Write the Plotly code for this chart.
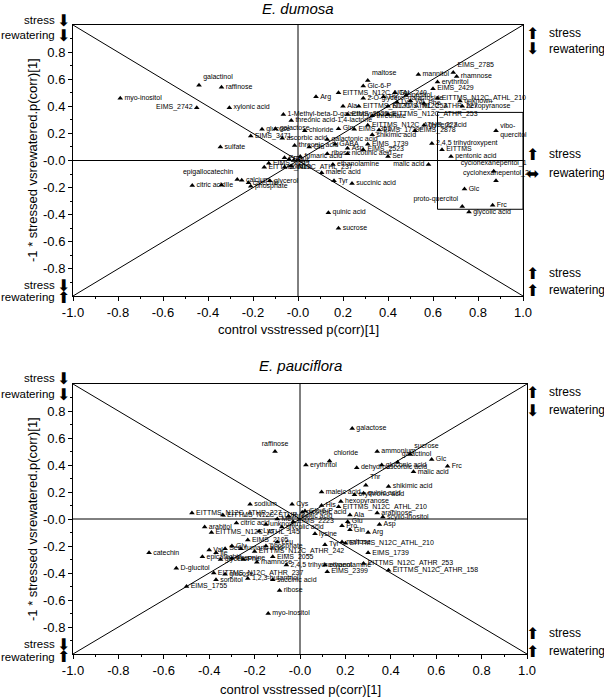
import plotly.graph_objects as go

# ---------------- data: E. dumosa (top panel) ----------------
dumosa_labels = [
    "myo-inositol", "galactinol", "raffinose", "EIMS_2742", "xylonic acid",
    "1-Methyl-beta-D-galactopyranoside", "glucose", "galactose", "EIMS_3471", "ascorbic acid",
    "sulfate", "threonic acid", "chloride", "Gln", "EIMS_351",
    "EIMS_1739", "EITTMS_N12C_ATHR_227", "galactonic acid", "shikimic acid", "GABA",
    "Asp", "EIMS_1739", "EIMS_2523", "nicotinic acid", "Ser",
    "ribose", "ethanolamine", "malic acid", "maleic acid", "Tyr",
    "succinic acid", "quinic acid", "sucrose", "cyclohexanepentol_1", "cyclohexanepentol_2",
    "Glc", "proto-quercitol", "Frc", "glycolic acid", "vibo-<br>quercitol",
    "EITTMS", "pentonic acid", "2,4,5 trihydroxypent", "EIMS_2878", "glyceric acid",
    "mannitol", "EIMS_2785", "rhamnose", "erythritol", "maltose",
    "Glc-6-P", "Arg", "EITTMS_N12C_NTAL_240", "2-O-glycerol-galactoside", "Ala",
    "EITTMS_N12C_ATHL_253", "EIMS_2429", "EITTMS_N12C_ATHL_210", "hexopyranose", "EITTMS_N12C_ATHR_227",
    "EITTMS_N12C_ATHR_253", "unknown", "inositol", "Gly", "Thr",
    "Val", "Phe", "Lys", "threonate", "EIMS_2523",
    "threonic acid-1,4-lactone", "Pro", "Gly", "Cys", "EIMS_2169",
    "EITTMS_N12C_ATHL_237", "sodium", "Val", "fumaric acid", "Glu",
    "calcium", "glycerol", "catechin", "phosphate", "epigallocatechin",
    "Ile", "citric acid",
]
dumosa_x = [
    -0.79, -0.44, -0.34, -0.45, -0.305,
    -0.065, -0.16, -0.10, -0.21, -0.07,
    -0.345, -0.015, 0.03, 0.18, 0.25,
    0.36, 0.31, 0.13, 0.33, 0.165,
    0.22, 0.31, 0.29, 0.22, 0.40,
    0.13, 0.155, 0.58, 0.105, 0.16,
    0.24, 0.135, 0.18, 0.87, 0.88,
    0.74, 0.73, 0.865, 0.76, 0.88,
    0.64, 0.68, 0.595, 0.52, 0.56,
    0.535, 0.69, 0.705, 0.62, 0.31,
    0.29, 0.08, 0.18, 0.29, 0.20,
    0.27, 0.60, 0.62, 0.73, 0.40,
    0.40, 0.72, 0.48, 0.43, 0.38,
    0.50, 0.56, 0.44, 0.33, 0.22,
    -0.03, -0.06, -0.04, -0.02, -0.13,
    -0.15, -0.06, -0.03, 0.01, 0.05,
    -0.25, -0.125, -0.22, -0.21, -0.27,
    -0.34, -0.47,
]
dumosa_y = [
    0.46, 0.555, 0.54, 0.39, 0.39,
    0.34, 0.23, 0.235, 0.18, 0.165,
    0.10, 0.11, 0.22, 0.235, 0.23,
    0.225, 0.26, 0.155, 0.19, 0.12,
    0.09, 0.12, 0.08, 0.05, 0.03,
    0.05, -0.03, -0.03, -0.09, -0.15,
    -0.17, -0.385, -0.50, -0.08, -0.15,
    -0.21, -0.34, -0.33, -0.38, 0.22,
    0.08, 0.03, 0.125, 0.22, 0.26,
    0.635, 0.65, 0.62, 0.58, 0.59,
    0.55, 0.47, 0.50, 0.46, 0.40,
    0.40, 0.53, 0.46, 0.40, 0.40,
    0.34, 0.44, 0.48, 0.50, 0.47,
    0.44, 0.42, 0.43, 0.33, 0.34,
    0.295, 0.02, 0.01, 0.0, -0.02,
    -0.05, -0.05, -0.04, 0.03, 0.10,
    -0.145, -0.15, -0.165, -0.19, -0.14,
    -0.18, -0.185,
]
dumosa_pos = ["middle right"] * len(dumosa_labels)
for i, lab in enumerate(dumosa_labels):
    if lab in ("EIMS_2742", "malic acid"):
        dumosa_pos[i] = "middle left"
    if lab in ("cyclohexanepentol_1", "cyclohexanepentol_2"):
        dumosa_pos[i] = "top center"
    if lab in ("proto-quercitol", "epigallocatechin"):
        dumosa_pos[i] = "top left"
    if lab in ("galactinol", "maltose", "EIMS_2785"):
        dumosa_pos[i] = "top right"

# ---------------- data: E. pauciflora (bottom panel) ----------------
paucif_labels = [
    "galactose", "raffinose", "ammonium", "sucrose", "Glc",
    "galactinol", "Frc", "malic acid", "erythritol", "chloride",
    "dehydroascorbic acid", "gluconic acid", "Thr", "shikimic acid", "maleic acid",
    "erythronic acid", "quinic acid", "His", "hexopyranose", "EITTMS_N12C_ATHL_210",
    "Glc-6-P", "arabinose", "scyllo-inositol", "Ala", "Glu",
    "Asp", "Pro", "Gln", "Arg", "lysine",
    "Tyr", "maltose", "EITTMS_N12C_ATHL_210", "EIMS_1739", "EITTMS_N12C_ATHR_253",
    "EITTMS_N12C_ATHR_158", "EIMS_2399", "ethanolamine", "sodium", "Cys",
    "EITTMS_N12C_ATHR_227", "EITTMS_N12C_STUR_227", "arabitol", "EITTMS_N12C_ATHL_145", "catechin",
    "D-glucitol", "EIMS_1755", "epicatechin", "sorbitol", "EITTMS_N12C_ATHR_237",
    "glucose", "1,2,3-butantriol", "rhamnose", "ribose", "myo-inositol",
    "succinic acid", "2,4,5 trihydroxypent", "citric acid", "EIMS_2105", "Val",
    "Ile", "Ser", "Gly", "fumaric acid", "EITTMS_N12C_ATHR_242",
    "phosphate", "Leu", "EIMS_2055", "glycerol", "threonine",
    "Phe", "threonic acid", "Met", "unknown", "glycolic acid",
    "EIMS_2223", "Lys", "nicotinic acid",
]
paucif_x = [
    0.23, -0.11, 0.34, 0.485, 0.58,
    0.43, 0.65, 0.50, 0.026, 0.13,
    0.25, 0.36, 0.29, 0.39, 0.095,
    0.24, 0.28, 0.095, 0.18, 0.17,
    0.022, 0.34, 0.365, 0.22, 0.21,
    0.35, 0.185, 0.22, 0.30, 0.066,
    0.11, 0.185, 0.20, 0.30, 0.28,
    0.39, 0.12, 0.11, -0.22, -0.035,
    -0.476, -0.34, -0.42, -0.39, -0.665,
    -0.545, -0.50, -0.43, -0.37, -0.38,
    -0.33, -0.23, -0.19, -0.09, -0.14,
    -0.12, -0.06, -0.28, -0.23, -0.40,
    -0.37, -0.33, -0.30, -0.26, -0.20,
    -0.15, -0.10, -0.12, -0.35, -0.30,
    -0.25, -0.05, -0.10, -0.15, -0.08,
    -0.03, -0.18, 0.01,
]
paucif_y = [
    0.67, 0.50, 0.50, 0.48, 0.44,
    0.42, 0.39, 0.35, 0.40, 0.43,
    0.38, 0.40, 0.25, 0.24, 0.20,
    0.18, 0.19, 0.10, 0.13, 0.09,
    0.06, 0.045, 0.015, 0.03, -0.02,
    -0.04, -0.05, -0.08, -0.10, -0.11,
    -0.19, -0.17, -0.18, -0.25, -0.33,
    -0.38, -0.39, -0.34, 0.11, 0.11,
    0.045, 0.03, -0.06, -0.10, -0.25,
    -0.365, -0.50, -0.28, -0.45, -0.40,
    -0.41, -0.44, -0.32, -0.53, -0.70,
    -0.45, -0.34, -0.03, -0.155, -0.23,
    -0.25, -0.22, -0.20, -0.22, -0.24,
    -0.20, -0.17, -0.28, -0.30, -0.29,
    -0.30, 0.02, 0.0, -0.04, -0.06,
    -0.02, -0.09, 0.05,
]
paucif_pos = ["middle right"] * len(paucif_labels)
for i, lab in enumerate(paucif_labels):
    if lab == "raffinose":
        paucif_pos[i] = "top center"
    if lab in ("sucrose", "chloride", "Thr", "galactinol"):
        paucif_pos[i] = "top right"

# ---------------- axes / reference lines ----------------
major_ticks = [-1.0, -0.8, -0.6, -0.4, -0.2, 0.0, 0.2, 0.4, 0.6, 0.8, 1.0]
x_tick_text = ["-1.0", "-0.8", "-0.6", "-0.4", "-0.2", "-0.0", "0.2", "0.4", "0.6", "0.8", "1.0"]
y_ticks = [-0.8, -0.6, -0.4, -0.2, 0.0, 0.2, 0.4, 0.6, 0.8]
y_tick_text = ["-0.8", "-0.6", "-0.4", "-0.2", "-0.0", "0.2", "0.4", "0.6", "0.8"]
minor_ticks = [-0.9, -0.7, -0.5, -0.3, -0.1, 0.1, 0.3, 0.5, 0.7, 0.9]
diagonals = [(-1, 1, 1, -1), (-1, -1, 1, 1)]
zero_lines = [(-1, 0, 1, 0), (0, -1, 0, 1)]
dumosa_box = (0.62, -0.36, 1.0, 0.355)

FONT = "Liberation Sans, Arial, sans-serif"

fig = go.Figure()

fig.add_trace(go.Scatter(
    x=dumosa_x, y=dumosa_y, text=dumosa_labels, textposition=dumosa_pos,
    mode="markers+text", xaxis="x", yaxis="y",
    marker=dict(symbol="triangle-up", size=5, color="black"),
    textfont=dict(size=7, color="black", family=FONT),
    cliponaxis=False, showlegend=False,
))
fig.add_trace(go.Scatter(
    x=paucif_x, y=paucif_y, text=paucif_labels, textposition=paucif_pos,
    mode="markers+text", xaxis="x2", yaxis="y2",
    marker=dict(symbol="triangle-up", size=5, color="black"),
    textfont=dict(size=7, color="black", family=FONT),
    cliponaxis=False, showlegend=False,
))

shapes = []
for xr, yr in (("x", "y"), ("x2", "y2")):
    for (x0, y0, x1, y1) in diagonals + zero_lines:
        shapes.append(dict(type="line", xref=xr, yref=yr, x0=x0, y0=y0, x1=x1, y1=y1,
                           line=dict(color="black", width=1)))
shapes.append(dict(type="rect", xref="x", yref="y", x0=dumosa_box[0], y0=dumosa_box[1],
                   x1=dumosa_box[2], y1=dumosa_box[3], line=dict(color="black", width=1)))


def xaxis(domain, anchor):
    return dict(domain=domain, anchor=anchor, range=[-1, 1], showgrid=False, zeroline=False,
                showline=True, linecolor="black", linewidth=1, mirror=True,
                ticks="outside", ticklen=4, tickcolor="black",
                tickmode="array", tickvals=major_ticks, ticktext=x_tick_text,
                minor=dict(tickmode="array", tickvals=minor_ticks, ticks="outside", ticklen=2, tickcolor="black"),
                tickfont=dict(size=13, color="black", family=FONT))


def yaxis(domain, anchor):
    return dict(domain=domain, anchor=anchor, range=[-1, 1], showgrid=False, zeroline=False,
                showline=True, linecolor="black", linewidth=1, mirror=True,
                ticks="outside", ticklen=4, tickcolor="black",
                tickmode="array", tickvals=y_ticks, ticktext=y_tick_text,
                minor=dict(tickmode="array", tickvals=minor_ticks, ticks="outside", ticklen=2, tickcolor="black"),
                tickfont=dict(size=13, color="black", family=FONT))


L, R, T, B = 73, 77, 25, 43
W, H = 604, 697
PW, PH = W - L - R, H - T - B


def px(xp):
    return (xp - L) / PW


def py(yp):
    return (H - B - yp) / PH


ann = []


def text(x, y, s, size=13, xanchor="center", italic=False, angle=0):
    ann.append(dict(xref="paper", yref="paper", x=x, y=y, text=s, showarrow=False,
                    xanchor=xanchor, yanchor="middle", textangle=angle,
                    font=dict(size=size, color="black", family=FONT,
                              style="italic" if italic else "normal")))


# titles
text(px(298), py(9), "E. dumosa", size=15, italic=True)
text(px(300), py(366), "E. pauciflora", size=15, italic=True)
text(px(298), py(329), "control vsstressed p(corr)[1]")
text(px(300), py(689), "control vsstressed p(corr)[1]")
text(px(32), py(160), "-1 * stressed vsrewatered.p(corr)[1]", angle=-90)
text(px(32), py(519), "-1 * stressed vsrewatered.p(corr)[1]", angle=-90)

UP, DOWN, BOTH = "⬆", "⬇", "⬌"
# left side labels: (y pixel, arrow, word)
left_labels = [
    (20, DOWN, "stress"), (35, DOWN, "rewatering"), (285, DOWN, "stress"), (297, UP, "rewatering"),
    (378, DOWN, "stress"), (394, DOWN, "rewatering"), (644, DOWN, "stress"), (657, UP, "rewatering"),
]
for yp, arrow, word in left_labels:
    text(px(57), py(yp), word, size=11.5, xanchor="right")
    text(px(63), py(yp), arrow, size=16)

# right side labels: (y pixel, arrow, word)
right_labels = [
    (33, UP, "stress"), (49, DOWN, "rewatering"), (154, UP, "stress"), (173, BOTH, "rewatering"),
    (273, UP, "stress"), (290, UP, "rewatering"),
    (392, UP, "stress"), (410, DOWN, "rewatering"), (633, UP, "stress"), (651, UP, "rewatering"),
]
for yp, arrow, word in right_labels:
    text(px(532), py(yp), arrow, size=16)
    text(px(547), py(yp), word, size=12, xanchor="left")

fig.update_layout(
    width=W, height=H,
    margin=dict(l=L, r=R, t=T, b=B),
    paper_bgcolor="white", plot_bgcolor="white",
    xaxis=xaxis([0, 450 / PW], "y"),
    yaxis=yaxis([py(296), 1], "x"),
    xaxis2=xaxis([0, 1], "y2"),
    yaxis2=yaxis([0, py(384)], "x2"),
    shapes=shapes, annotations=ann,
    font=dict(family=FONT),
)

fig.write_html("out.html", config={"displayModeBar": False},
               post_script="document.body.style.margin='0';document.body.style.overflow='hidden';")
